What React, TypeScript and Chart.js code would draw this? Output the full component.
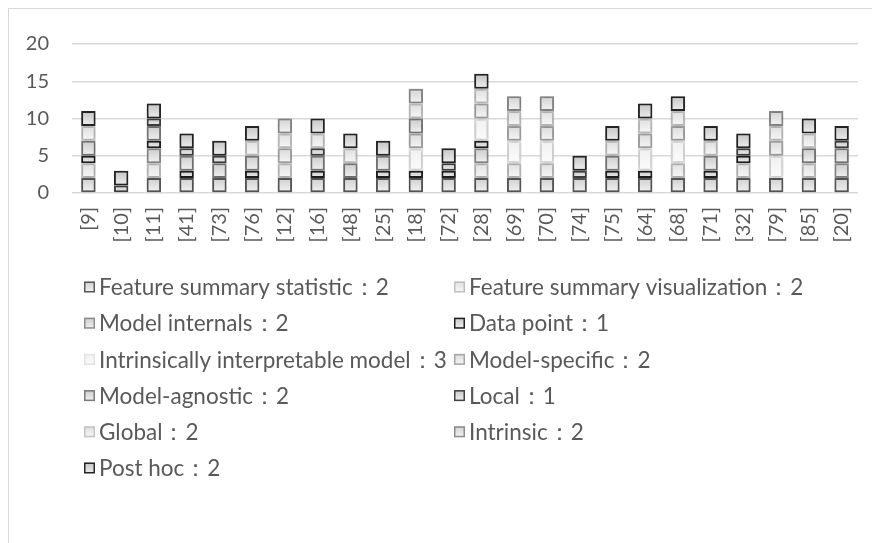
import React, { useEffect, useRef } from "react";
import { Chart, registerables } from "chart.js";

Chart.register(...registerables);

const categories = ["[9]", "[10]", "[11]", "[41]", "[73]", "[76]", "[12]", "[16]", "[48]", "[25]", "[18]", "[72]", "[28]", "[69]", "[70]", "[74]", "[75]", "[64]", "[68]", "[71]", "[32]", "[79]", "[85]", "[20]"];
const yTicks = [0, 5, 10, 15, 20];

const seriesNames = [
  "Feature summary statistic",
  "Feature summary visualization",
  "Model internals",
  "Data point",
  "Intrinsically interpretable model",
  "Model-specific",
  "Model-agnostic",
  "Local",
  "Global",
  "Intrinsic",
  "Post hoc",
];
const legendValues = [2, 2, 2, 1, 3, 2, 2, 1, 2, 2, 2];

const featureSummaryStatistic = [2, 0, 2, 2, 2, 2, 2, 2, 2, 2, 2, 2, 2, 2, 2, 2, 2, 2, 2, 2, 2, 2, 2, 2];
const featureSummaryVisualization = [2, 0, 2, 0, 0, 0, 2, 0, 0, 0, 0, 0, 2, 2, 2, 0, 0, 0, 2, 0, 2, 0, 2, 0];
const modelInternals = [0, 0, 2, 0, 0, 0, 0, 0, 0, 0, 0, 0, 2, 0, 0, 0, 0, 0, 0, 0, 0, 0, 0, 2];
const dataPoint = [1, 0, 1, 1, 0, 1, 0, 1, 0, 1, 1, 1, 1, 0, 0, 0, 1, 1, 0, 1, 1, 0, 0, 0];
const intrinsicallyInterpretableModel = [0, 0, 0, 0, 0, 0, 0, 0, 0, 0, 3, 0, 3, 3, 3, 0, 0, 3, 3, 0, 0, 3, 0, 0];
const modelSpecific = [0, 0, 0, 0, 0, 0, 2, 0, 0, 0, 2, 0, 2, 2, 2, 0, 0, 2, 2, 0, 0, 2, 0, 0];
const modelAgnostic = [2, 0, 2, 2, 2, 2, 0, 2, 2, 2, 2, 0, 0, 0, 0, 0, 2, 0, 0, 2, 0, 0, 2, 2];
const local = [0, 1, 1, 1, 1, 0, 0, 1, 0, 0, 0, 1, 0, 0, 0, 1, 0, 0, 0, 0, 1, 0, 0, 1];
const global = [2, 0, 0, 0, 0, 2, 2, 2, 2, 0, 2, 0, 2, 2, 2, 0, 2, 2, 2, 2, 0, 2, 2, 0];
const intrinsic = [0, 0, 0, 0, 0, 0, 2, 0, 0, 0, 2, 0, 0, 2, 2, 0, 0, 0, 0, 0, 0, 2, 0, 0];
const postHoc = [2, 2, 2, 2, 2, 2, 0, 2, 2, 2, 0, 2, 2, 0, 0, 2, 2, 2, 2, 2, 2, 0, 2, 2];

const seriesData = [
  featureSummaryStatistic,
  featureSummaryVisualization,
  modelInternals,
  dataPoint,
  intrinsicallyInterpretableModel,
  modelSpecific,
  modelAgnostic,
  local,
  global,
  intrinsic,
  postHoc,
];

const borderColors = ["#595959", "#bfbfbf", "#8c8c8c", "#1e1e1e", "#e3e3e3", "#a6a6a6", "#7a7a7a", "#404040", "#c4c4c4", "#8c8c8c", "#262626"];
const fillTop = ["#cfcfcf", "#e0e0e0", "#cbcbcb", "#c8c8c8", "#f0f0f0", "#dadada", "#cbcbcb", "#c8c8c8", "#dedede", "#d2d2d2", "#c4c4c4"];
const fillBottom = ["#f4f4f4", "#f8f8f8", "#f2f2f2", "#f0f0f0", "#fbfbfb", "#f6f6f6", "#f2f2f2", "#f0f0f0", "#f8f8f8", "#f4f4f4", "#eeeeee"];

const FONT = "Lato, 'Liberation Sans', 'DejaVu Sans', sans-serif";
const TEXT = "#595959";

function segmentFill(c: any, i: number) {
  if (c.type !== "data") return fillBottom[i];
  const chart = c.chart;
  const y = chart.scales && chart.scales.y;
  if (!y) return fillBottom[i];
  const idx = c.dataIndex;
  let start = 0;
  for (let k = 0; k < i; k++) start += seriesData[k][idx];
  const end = start + seriesData[i][idx];
  const top = y.getPixelForValue(end);
  const bottom = y.getPixelForValue(start);
  if (!isFinite(top) || !isFinite(bottom) || top === bottom) return fillBottom[i];
  const g = chart.ctx.createLinearGradient(0, top, 0, bottom);
  g.addColorStop(0, fillTop[i]);
  g.addColorStop(1, fillBottom[i]);
  return g;
}

const shadowPlugin = {
  id: "barShadow",
  beforeDatasetsDraw(chart: any) {
    const ctx = chart.ctx;
    ctx.save();
    ctx.shadowColor = "rgba(0,0,0,0.28)";
    ctx.shadowBlur = 4;
    ctx.shadowOffsetX = 0;
    ctx.shadowOffsetY = 0;
  },
  afterDatasetsDraw(chart: any) {
    chart.ctx.restore();
  },
};

const legendPlugin = {
  id: "gridLegend",
  afterDraw(chart: any) {
    const ctx = chart.ctx;
    const colX = [75, 445];
    const row0 = 278;
    const rowH = 36.2;
    const box = 11;
    ctx.save();
    ctx.font = `22.5px ${FONT}`;
    ctx.textBaseline = "middle";
    ctx.textAlign = "left";
    seriesNames.forEach((name, i) => {
      const col = i % 2;
      const row = Math.floor(i / 2);
      const x = colX[col];
      const y = row0 + row * rowH;
      const g = ctx.createLinearGradient(0, y - box / 2, 0, y + box / 2);
      g.addColorStop(0, fillTop[i]);
      g.addColorStop(1, fillBottom[i]);
      ctx.fillStyle = g;
      ctx.fillRect(x, y - box / 2, box, box);
      ctx.strokeStyle = borderColors[i];
      ctx.lineWidth = 1.5;
      ctx.strokeRect(x + 0.75, y - box / 2 + 0.75, box - 1.5, box - 1.5);
      ctx.fillStyle = TEXT;
      ctx.fillText(`${name}：${legendValues[i]}`, x + box + 4, y + 1);
    });
    ctx.restore();
  },
};

export default function App() {
  const ref = useRef<HTMLCanvasElement>(null);
  useEffect(() => {
    const canvas = ref.current;
    if (!canvas) return;
    const datasets = seriesNames.map((name, i) => ({
      label: name,
      data: seriesData[i].map((v) => (v === 0 ? null : v)),
      borderColor: borderColors[i],
      borderWidth: 2,
      borderSkipped: false as const,
      backgroundColor: (c: any) => segmentFill(c, i),
      barPercentage: 0.44,
      categoryPercentage: 1,
    }));
    const chart = new Chart(canvas, {
      type: "bar",
      data: { labels: categories, datasets },
      plugins: [shadowPlugin, legendPlugin],
      options: {
        animation: false,
        responsive: false,
        devicePixelRatio: 1,
        layout: { padding: { left: 0, top: 28, right: 17, bottom: 280 } },
        plugins: { legend: { display: false }, tooltip: { enabled: false } },
        scales: {
          x: {
            stacked: true,
            grid: { display: false, drawTicks: false },
            border: { display: false },
            ticks: {
              autoSkip: false,
              minRotation: 90,
              maxRotation: 90,
              padding: 14,
              color: TEXT,
              font: { family: FONT, size: 20 },
            },
            afterFit: (s: any) => {
              s.height = 70;
            },
          },
          y: {
            stacked: true,
            min: yTicks[0],
            max: yTicks[yTicks.length - 1],
            afterBuildTicks: (s: any) => {
              s.ticks = yTicks.map((v) => ({ value: v }));
            },
            grid: { color: "#d9d9d9", lineWidth: 1.5, drawTicks: false },
            border: { display: false },
            ticks: {
              padding: 23,
              color: TEXT,
              font: { family: FONT, size: 20 },
            },
            afterFit: (s: any) => {
              s.width = 63;
            },
          },
        },
      },
    });
    return () => chart.destroy();
  }, []);
  return (
    <div
      style={{
        width: 872,
        height: 535,
        borderTop: "1px solid #d9d9d9",
        borderLeft: "1px solid #d9d9d9",
        boxSizing: "border-box",
        background: "#fff",
      }}
    >
      <canvas ref={ref} width={871} height={534} style={{ display: "block", width: 871, height: 534 }} />
    </div>
  );
}
